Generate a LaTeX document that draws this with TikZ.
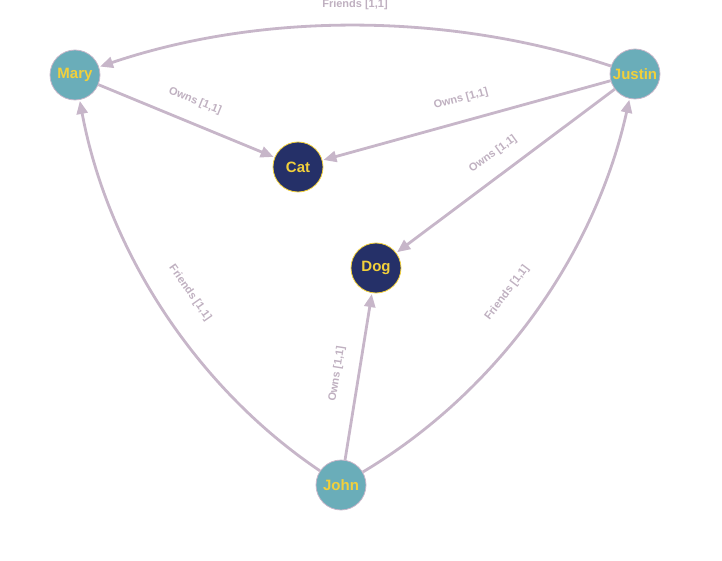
\documentclass[tikz,border=0pt]{standalone}
\usepackage{fontspec}
\setmainfont{Liberation Sans}
\usetikzlibrary{arrows.meta,backgrounds}
\definecolor{teal}{HTML}{6AADB9}
\definecolor{navy}{HTML}{253068}
\definecolor{gold}{HTML}{F2D03B}
\definecolor{link}{HTML}{C7B6C9}
\definecolor{linklabel}{HTML}{BFB0C0}
\tikzset{
  person/.style={circle, fill=teal, draw=link, line width=0.8pt, minimum size=50pt, inner sep=0pt,
    text=gold, font=\fontsize{15}{15}\selectfont\bfseries},
  pet/.style={circle, fill=navy, draw=gold, line width=0.8pt, minimum size=50pt, inner sep=0pt,
    text=gold, font=\fontsize{15}{15}\selectfont\bfseries},
  rel/.style={draw=link, line width=2.8pt, -{Triangle[length=13pt,width=11pt]}, shorten >=1pt},
  rellabel/.style={text=linklabel, font=\fontsize{11}{11}\selectfont\bfseries, inner sep=0pt}
}
\begin{document}
\begin{tikzpicture}[x=1pt, y=-1pt]
  \useasboundingbox (0,0) rectangle (722,561);

  % entities
  \node[person] (mary)   at (75,75)   {Mary};
  \node[person] (justin) at (635,74)  {Justin};
  \node[person] (john)   at (341,485) {John};
  \node[pet]    (cat)    at (298,167) {Cat};
  \node[pet]    (dog)    at (376,268) {Dog};

  % relations, kept behind the entities
  \begin{scope}[on background layer]
  \draw[rel] (justin) .. controls (448,12) and (262,12) .. (mary);
  \draw[rel] (mary) -- (cat);
  \draw[rel] (justin) -- (cat);
  \draw[rel] (justin) -- (dog);
  \draw[rel] (john) -- (dog);
  \draw[rel] (john) .. controls (197,388) and (108,252) .. (mary);
  \draw[rel] (john) .. controls (497,392) and (595,255) .. (justin);
  \end{scope}

  % relation labels
  \node[rellabel] (l1) at (355,5)   {Friends [1,1]};
  \node[rellabel, rotate=-22] (l2) at (195,101) {Owns [1,1]};
  \node[rellabel, rotate=15]  (l3) at (461,99)  {Owns [1,1]};
  \node[rellabel, rotate=36]  (l4) at (493,154) {Owns [1,1]};
  \node[rellabel, rotate=81]  (l5) at (337,374) {Owns [1,1]};
  \node[rellabel, rotate=-55] (l6) at (190,293) {Friends [1,1]};
  \node[rellabel, rotate=53]  (l7) at (507,293) {Friends [1,1]};
\end{tikzpicture}
\end{document}
